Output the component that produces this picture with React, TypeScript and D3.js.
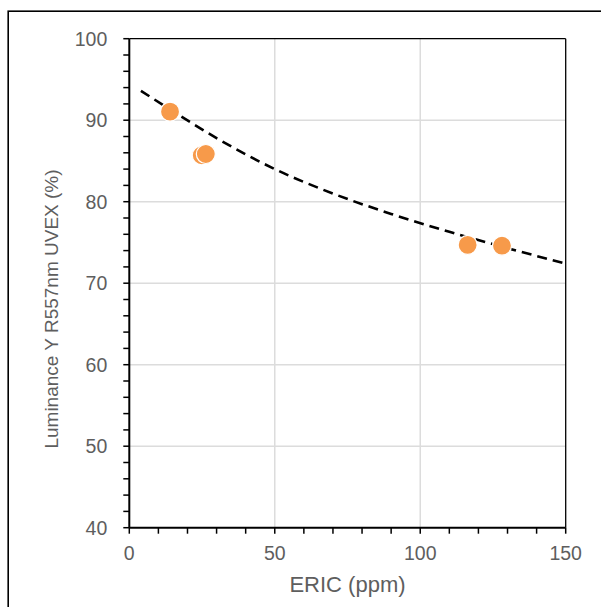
import React from "react";
import * as d3 from "d3";

const xTicks = [0, 50, 100, 150];
const yTicks = [40, 50, 60, 70, 80, 90, 100];
const xMinor = d3.range(0, 151, 10);
const yMinor = d3.range(40, 101, 2);

const pointX = [14, 24.9, 26.3, 116.3, 128.1];
const pointY = [91.05, 85.7, 85.85, 74.7, 74.6];

const trendX = [4, 15, 30, 50, 70, 90, 110, 130, 150];
const trendY = [93.6, 91.1, 87.8, 84.0, 81.0, 78.5, 76.3, 74.3, 72.4];

const xTitle = "ERIC (ppm)";
const yTitle = "Luminance Y R557nm UVEX (%)";

export default function App() {
  const W = 601, H = 607;
  const left = 129.3, right = 565.7, top = 38.7, bottom = 527.7;
  const x = d3.scaleLinear().domain([0, 150]).range([left, right]);
  const y = d3.scaleLinear().domain([40, 100]).range([bottom, top]);
  const line = d3
    .line<number>()
    .x((_, i) => x(trendX[i]))
    .y((d) => y(d))
    .curve(d3.curveMonotoneX);
  const textColor = "#5e5e5e";
  const font = "'Liberation Sans', Arial, Helvetica, sans-serif";
  return (
    <svg
      width={W}
      height={H}
      style={{ position: "absolute", left: 0, top: 0, display: "block" }}
      fontFamily={font}
    >
      <rect x={0} y={0} width={W} height={H} fill="#fff" />
      <rect x={8.2} y={11.2} width={900} height={900} fill="none" stroke="#000" strokeWidth={1.6} />
      {/* grid */}
      {xTicks.filter((t) => t > 0 && t < 150).map((t) => (
        <line key={"gx" + t} x1={x(t)} x2={x(t)} y1={top} y2={bottom} stroke="#dcdcdc" strokeWidth={1.5} />
      ))}
      {yTicks.filter((t) => t > 40 && t < 100).map((t) => (
        <line key={"gy" + t} x1={left} x2={right} y1={y(t)} y2={y(t)} stroke="#dcdcdc" strokeWidth={1.5} />
      ))}
      {/* plot frame top/right */}
      <line x1={left} x2={right} y1={top} y2={top} stroke="#000" strokeWidth={1.3} />
      <line x1={right} x2={right} y1={top} y2={bottom} stroke="#000" strokeWidth={1.3} />
      {/* trend */}
      <path d={line(trendY) || ""} fill="none" stroke="#000" strokeWidth={2.6} strokeDasharray="10,6" />
      {/* points */}
      {pointX.map((px, i) => (
        <circle key={"p" + i} cx={x(px)} cy={y(pointY[i])} r={9.5} fill="#F79A4A" stroke="#fff" strokeWidth={1.2} />
      ))}
      {/* axes */}
      <line x1={left} x2={left} y1={top} y2={bottom} stroke="#000" strokeWidth={2} />
      <line x1={left} x2={right} y1={bottom} y2={bottom} stroke="#000" strokeWidth={2} />
      {yMinor.map((t) => (
        <line key={"ym" + t} x1={left - 6} x2={left} y1={y(t)} y2={y(t)} stroke="#000" strokeWidth={1.5} />
      ))}
      {xMinor.map((t) => (
        <line key={"xm" + t} x1={x(t)} x2={x(t)} y1={bottom} y2={bottom + 6} stroke="#000" strokeWidth={1.5} />
      ))}
      {yTicks.map((t) => (
        <text key={"yl" + t} x={left - 22} y={y(t)} dy="0.35em" textAnchor="end" fontSize={19.5} fill={textColor}>
          {t}
        </text>
      ))}
      {xTicks.map((t) => (
        <text key={"xl" + t} x={x(t)} y={bottom + 32} textAnchor="middle" fontSize={19.5} fill={textColor}>
          {t}
        </text>
      ))}
      <text x={(left + right) / 2} y={592} textAnchor="middle" fontSize={22} fill={textColor}>
        {xTitle}
      </text>
      <text
        transform={`translate(58,309) rotate(-90)`}
        textAnchor="middle"
        fontSize={19}
        fill={textColor}
      >
        {yTitle}
      </text>
    </svg>
  );
}
